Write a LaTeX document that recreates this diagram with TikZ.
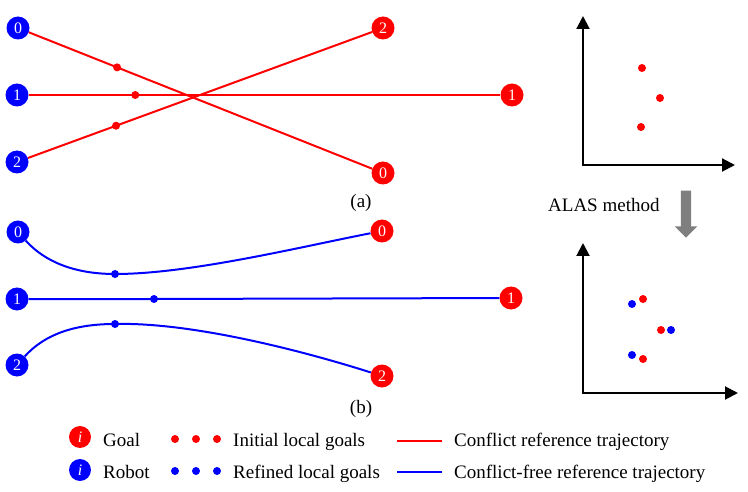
\documentclass[tikz,border=0pt]{standalone}
\usepackage{fontspec}
\setmainfont{Liberation Serif}
\usepackage{tikz}
\usetikzlibrary{arrows.meta,shapes.arrows}
\definecolor{robotblue} {HTML}{0000FF}
\definecolor{goalred}   {HTML}{FF0000}
\definecolor{methodgray}{HTML}{7F7F7F}
\tikzset{
  every node/.style={font=\fontsize{19}{22}\selectfont},
  % --- nodes
  agent/.style = {circle, inner sep=0pt, minimum size=23pt, text=white,
                  font=\fontsize{16}{18}\selectfont},
  robot/.style = {agent, fill=robotblue},
  goal/.style  = {agent, fill=goalred},
  keyr/.style  = {robot, minimum size=22pt, font=\fontsize{16}{18}\selectfont\itshape},
  keyg/.style  = {goal, minimum size=22pt, font=\fontsize{16}{18}\selectfont\itshape},
  dot/.style   = {circle, inner sep=0pt, minimum size=8pt},
  lgi/.style   = {dot, fill=goalred},
  lgr/.style   = {dot, fill=robotblue},
  txt/.style   = {inner sep=0pt, anchor=base west},
  subcap/.style = {inner sep=0pt, anchor=base},
  bigarrow/.style = {single arrow, fill=methodgray, inner sep=5pt, minimum height=47pt,
                  single arrow head extend=6pt, rotate=-90},
  % --- edges
  conflict/.style = {line width=2pt, draw=goalred},
  free/.style     = {line width=2pt, draw=robotblue},
  axis/.style     = {line width=2pt, line join=miter,
                  {Triangle[length=13pt,width=13pt]}-{Triangle[length=13pt,width=13pt]}},
}

\begin{document}
\begin{tikzpicture}[x=1pt,y=-1pt]
  \useasboundingbox (0,0) rectangle (748,492);

  % --- (a) initial reference trajectories
  \node[robot] (ra0) at (18,28)  {0};
  \node[robot] (ra1) at (17,95)  {1};
  \node[robot] (ra2) at (17,162) {2};
  \node[goal]  (ga2) at (383,28)  {2};
  \node[goal]  (ga1) at (512,95)  {1};
  \node[goal]  (ga0) at (383,173) {0};

  \draw[conflict] (ra0) -- node[lgi,pos=0.257] (la0) {} (ga0);
  \draw[conflict] (ra1) -- node[lgi,pos=0.226] (la1) {} (ga1);
  \draw[conflict] (ra2) -- node[lgi,pos=0.256] (la2) {} (ga2);

  \node[subcap] (capa) at (361,208) {(a)};

  % --- (b) refined reference trajectories
  \node[robot] (rb0) at (18,232) {0};
  \node[robot] (rb1) at (17,299) {1};
  \node[robot] (rb2) at (17,365) {2};
  \node[goal]  (gb0) at (382,231) {0};
  \node[goal]  (gb1) at (511,298) {1};
  \node[goal]  (gb2) at (382,376) {2};

  \node[lgr] (lb0) at (115,274) {};
  \node[lgr] (lb1) at (154,299) {};
  \node[lgr] (lb2) at (115,324) {};

  \draw[free] (rb0) .. controls (45,262) and (75,274) .. (lb0.center)
                    .. controls (190,274) and (300,247) .. (gb0);
  \draw[free] (rb1) -- (lb1.center) -- (gb1);
  \draw[free] (rb2) .. controls (45,334) and (75,324) .. (lb2.center)
                    .. controls (190,322) and (300,350) .. (gb2);

  \node[subcap] (capb) at (361,413) {(b)};

  % --- local goals before / after
  \coordinate (ya) at (583,16);
  \coordinate (oa) at (583,165);
  \coordinate (xa) at (735,165);
  \draw[axis] (ya) -- (oa) -- (xa);
  \node[lgi] (pa0) at (642,68)  {};
  \node[lgi] (pa1) at (660,98)  {};
  \node[lgi] (pa2) at (641,127) {};

  \node[bigarrow] (alas) at (686,211.5) {};
  \node[txt] (alastxt) at (548,212) {ALAS method};

  \coordinate (yb) at (583,243);
  \coordinate (ob) at (583,393);
  \coordinate (xb) at (738,393);
  \draw[axis] (yb) -- (ob) -- (xb);
  \node[lgr] (qb0) at (632,304) {};
  \node[lgi] (pb0) at (643,299) {};
  \node[lgi] (pb1) at (661,330) {};
  \node[lgr] (qb1) at (671,330) {};
  \node[lgr] (qb2) at (632,355) {};
  \node[lgi] (pb2) at (643,359) {};

  % --- legend
  \node[keyg] (kg) at (80,437) {i};
  \node[txt]  (kgt) at (103,446) {Goal};
  \node[keyr] (kr) at (80,470) {i};
  \node[txt]  (krt) at (103,478) {Robot};

  \foreach \x [count=\k] in {175,196,217} {
    \node[lgi] (ki\k) at (\x,439) {};
    \node[lgr] (kr\k) at (\x,471) {};
  }
  \node[txt] (kit) at (233,446) {Initial local goals};
  \node[txt] (krft) at (233,478) {Refined local goals};

  \coordinate (kc1) at (397,441);
  \coordinate (kc2) at (442,441);
  \coordinate (kf1) at (397,472);
  \coordinate (kf2) at (442,472);
  \draw[conflict] (kc1) -- (kc2);
  \draw[free] (kf1) -- (kf2);
  \node[txt] (kct) at (454,446) {Conflict reference trajectory};
  \node[txt] (kft) at (454,478) {Conflict-free reference trajectory};
\end{tikzpicture}
\end{document}
